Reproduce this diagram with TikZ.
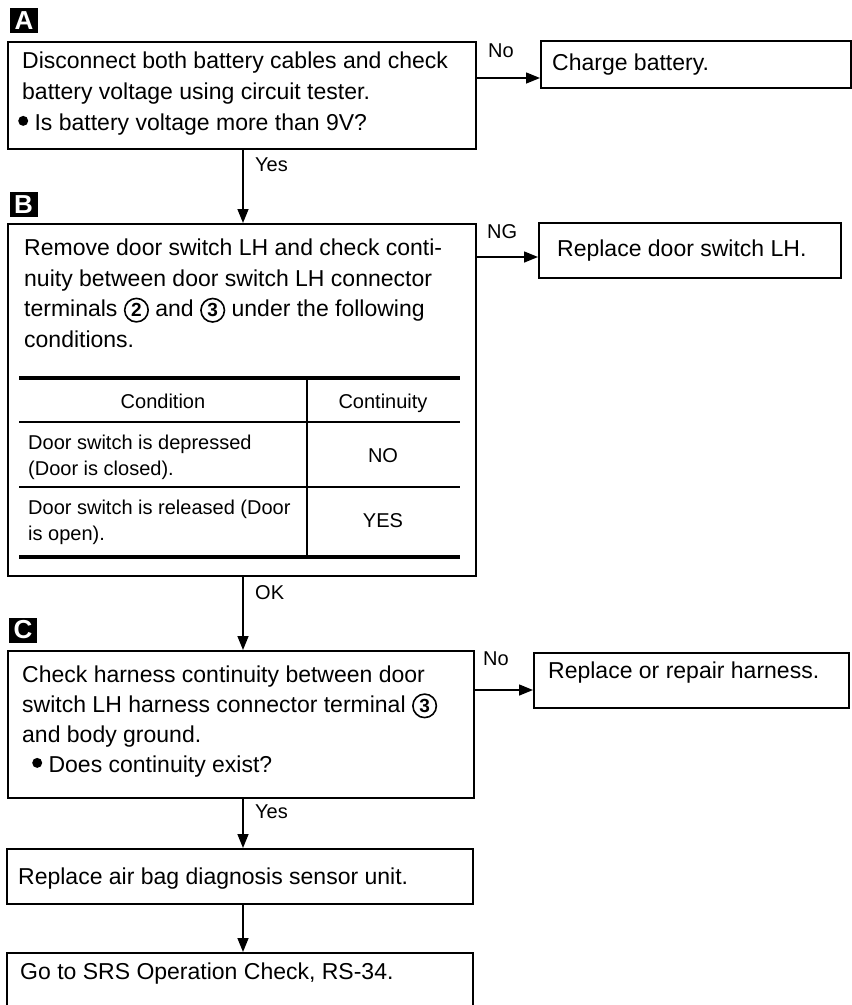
\documentclass[tikz,border=0pt]{standalone}
\usepackage{fontspec}
\setmainfont{Liberation Sans}
\usetikzlibrary{arrows.meta}
\newcommand\cnum[1]{\tikz[baseline=(cn.base)]\node[circle, draw, line width=1.6pt, minimum size=23.5pt, inner sep=0pt, anchor=center, align=center, font=\bfseries\fontsize{19}{19}\selectfont](cn){#1};}
\newcommand\bul{\tikz[baseline={(0pt,-9.5pt)}]\fill (0pt,0pt) circle[radius=5pt];}
\begin{document}
\begin{tikzpicture}[x=1pt,y=-1pt,
  box/.style={draw, line width=1.8pt, rectangle, inner sep=0pt, anchor=north west},
  lbl/.style={fill=black, text=white, font=\bfseries\fontsize{26}{26}\selectfont, minimum width=28pt, minimum height=25pt, inner sep=0pt},
  txt/.style={align=left, anchor=north west, inner sep=0pt},
  one/.style={anchor=base west, inner sep=0pt, font=\fontsize{23}{23}\selectfont},
  flow/.style={line width=1.5pt, -{Triangle[length=14pt,width=11pt]}},
  ans/.style={font=\fontsize{20}{20}\selectfont, anchor=west, inner sep=0pt},
  tab/.style={font=\fontsize{20}{25.5}\selectfont, inner sep=0pt},
  tabv/.style={font=\fontsize{20}{20}\selectfont, inner sep=0pt, anchor=base},
  thick rule/.style={line width=3.4pt},
  thin rule/.style={line width=1.7pt}
]
\useasboundingbox (0,0) rectangle (852,1005);
\clip (0,0) rectangle (852,1005);
\fill[white] (0,0) rectangle (852,1005);

% A
\node[lbl] (LA) at (24,20.5) {A};
\node[box, minimum width=468pt, minimum height=107pt] (A) at (7,41) {};
\node[txt, font=\fontsize{23}{31}\selectfont] (At) at (22,51.5) {Disconnect both battery cables and check\\battery voltage using circuit tester.\\\hspace*{-4pt}\bul\ Is battery voltage more than 9V?};
\node[box, minimum width=310pt, minimum height=47pt] (A2) at (540,40) {};
\node[one] (A2t) at (552,70) {Charge battery.};

% B
\node[lbl] (LB) at (23.5,204.5) {B};
\node[box, minimum width=468pt, minimum height=352pt] (B) at (7,223) {};
\node[txt, font=\fontsize{23}{30.7}\selectfont] (Bt) at (24,238.5) {Remove door switch LH and check conti-\\nuity between door switch LH connector\\terminals \cnum{2} and \cnum{3} under the following\\conditions.};
\node[box, minimum width=302pt, minimum height=55pt] (B2) at (538,222) {};
\node[one] (B2t) at (557,256) {Replace door switch LH.};

% table
\coordinate (tl) at (19,378);
\coordinate (tr) at (460,378);
\coordinate (tv) at (307,378);
\draw[thick rule] (tl) -- (tr);
\draw[thin rule] (19,422) -- (460,422);
\draw[thin rule] (19,487) -- (460,487);
\draw[thick rule] (19,557) -- (460,557);
\draw[thin rule] (tv) -- (307,557);
\node[tabv] (h1) at (163,408) {Condition};
\node[tabv] (h2) at (383,408) {Continuity};
\node[tab, align=left, anchor=north west] (r1) at (28,435) {Door switch is depressed\\(Door is closed).};
\node[tabv] (r1v) at (383,462) {NO};
\node[tab, align=left, anchor=north west] (r2) at (28,500) {Door switch is released (Door\\is open).};
\node[tabv] (r2v) at (383,527) {YES};

% C
\node[lbl] (LC) at (23,630) {C};
\node[box, minimum width=466pt, minimum height=147pt] (C) at (7,650) {};
\node[txt, font=\fontsize{23}{30}\selectfont] (Ct) at (22,665.5) {Check harness continuity between door\\switch LH harness connector terminal \cnum{3}\\and body ground.\\\hspace*{10pt}\bul\ Does continuity exist?};
\node[box, minimum width=315pt, minimum height=55pt] (C2) at (533,652) {};
\node[one] (C2t) at (548,678) {Replace or repair harness.};

% D, E
\node[box, minimum width=466pt, minimum height=55pt] (D) at (6,848) {};
\node[one] (Dt) at (18,884) {Replace air bag diagnosis sensor unit.};
\node[box, minimum width=466pt, minimum height=70pt] (E) at (6,952) {};
\node[one] (Et) at (20,979) {Go to SRS Operation Check, RS-34.};

% connectors
\coordinate (mx) at (243,0);
\coordinate (ya) at (0,78);
\coordinate (yb) at (0,257);
\coordinate (yc) at (0,690);
\draw[flow] (A.south -| mx) -- (B.north -| mx);
\draw[flow] (B.south -| mx) -- (C.north -| mx);
\draw[flow] (C.south -| mx) -- (D.north -| mx);
\draw[flow] (D.south -| mx) -- (E.north -| mx);
\draw[flow] (A.east |- ya) -- (A2.west |- ya);
\draw[flow] (B.east |- yb) -- (B2.west |- yb);
\draw[flow] (C.east |- yc) -- (C2.west |- yc);

% answers
\node[ans] (l1) at (255,165) {Yes};
\node[ans] (l2) at (488,51) {No};
\node[ans] (l3) at (487,232) {NG};
\node[ans] (l4) at (255,593) {OK};
\node[ans] (l5) at (483,659) {No};
\node[ans] (l6) at (255,812) {Yes};
\end{tikzpicture}
\end{document}
